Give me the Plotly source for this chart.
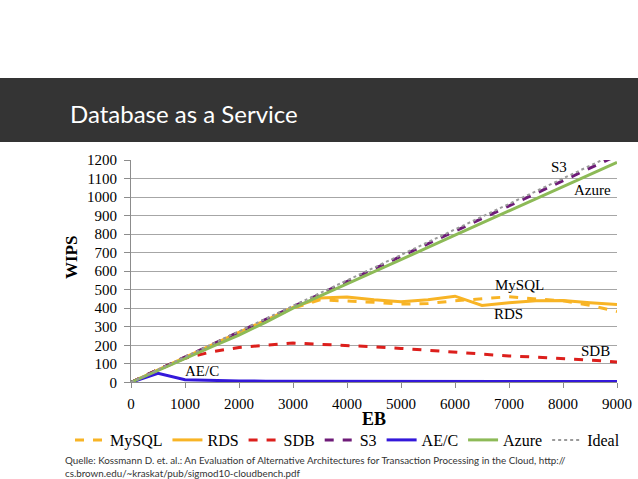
import plotly.graph_objects as go

W, H = 638, 479

# EB values on the x axis
eb = [0, 500, 1000, 1500, 2000, 2500, 3000, 3500, 4000, 4500,
      5000, 5500, 6000, 6500, 7000, 7500, 8000, 8500, 9000]

mysql = [0, 68, 136, 204, 270, 335, 400, 445, 440, 432,
         422, 425, 440, 453, 462, 450, 440, 415, 382]
rds = [0, 68, 136, 204, 270, 335, 405, 455, 460, 445,
       435, 445, 465, 415, 430, 440, 442, 430, 420]
sdb = [0, 68, 130, 165, 188, 200, 212, 205, 200, 192,
       183, 172, 162, 152, 142, 136, 130, 120, 110]
s3 = [0, 68, 136, 204, 272, 340, 410, 478, 545, 612,
      680, 748, 816, 884, 952, 1020, 1088, 1156, 1224]
aec = [0, 48, 14, 9, 7, 6, 6, 5, 5, 5,
       5, 5, 5, 5, 5, 5, 5, 5, 4]
azure = [0, 65, 130, 192, 255, 325, 400, 465, 530, 595,
         660, 728, 795, 860, 925, 990, 1055, 1120, 1187]
ideal_x = [0, 9000]
ideal_y = [0, 1238]

x_ticks = list(range(0, 9001, 1000))
y_ticks = list(range(0, 1201, 100))

serif = "Liberation Serif"

series = [
    ("MySQL", eb, mysql, "#F8B425", "dash", 3),
    ("RDS", eb, rds, "#F8B425", "solid", 3),
    ("SDB", eb, sdb, "#DC1F1C", "dash", 3),
    ("S3", eb, s3, "#6E1B78", "dash", 3),
    ("AE/C", eb, aec, "#3318DA", "solid", 3),
    ("Azure", eb, azure, "#8DBA57", "solid", 3),
    ("Ideal", ideal_x, ideal_y, "#9A9A9A", "dot", 2),
]

fig = go.Figure()
for name, xs, ys, col, dash, w in series:
    fig.add_trace(go.Scatter(x=xs, y=ys, name=name, mode="lines",
                             line=dict(color=col, dash=dash, width=w)))

# dark title band
fig.add_shape(type="rect", xref="paper", yref="paper",
              x0=0, x1=1, y0=1 - 142 / H, y1=1 - 78 / H,
              fillcolor="#343434", line=dict(width=0), layer="below")

ann = []
ann.append(dict(text="Database as a Service", xref="paper", yref="paper",
                x=68 / W, y=1 - 113 / H, xanchor="left", yanchor="middle",
                showarrow=False, font=dict(family="Lato", size=24, color="white")))
ann.append(dict(text="WIPS", xref="paper", yref="paper", x=71 / W, y=1 - 258 / H,
                xanchor="center", yanchor="middle", textangle=-90, showarrow=False,
                font=dict(family=serif, size=17, color="black", weight="bold")))
ann.append(dict(text="EB", xref="paper", yref="paper", x=374 / W, y=1 - 419 / H,
                xanchor="center", yanchor="middle", showarrow=False,
                font=dict(family=serif, size=18, color="black", weight="bold")))

# series labels inside the chart
labels = [("S3", 7930, 1162), ("Azure", 8541, 1037), ("MySQL", 7191, 525),
          ("RDS", 6987, 369), ("SDB", 8598, 169), ("AE/C", 1320, 61)]
for t, lx, ly in labels:
    ann.append(dict(text=t, x=lx, y=ly, showarrow=False,
                    font=dict(family=serif, size=15, color="black")))

src1 = "Quelle: Kossmann D. et. al.: An Evaluation of Alternative Architectures for Transaction Processing in the Cloud, http://"
src2 = "cs.brown.edu/~kraskat/pub/sigmod10-cloudbench.pdf"
for t, py in [(src1, 460), (src2, 473)]:
    ann.append(dict(text=t, xref="paper", yref="paper", x=63 / W, y=1 - py / H,
                    xanchor="left", yanchor="middle", showarrow=False,
                    font=dict(family="Lato", size=9.8, color="#333333")))

fig.update_layout(
    template="none",
    width=W, height=H,
    margin=dict(l=0, r=0, t=0, b=0, pad=0, autoexpand=False),
    paper_bgcolor="white", plot_bgcolor="white",
    annotations=ann,
    showlegend=True,
    legend=dict(orientation="h", x=70 / W, y=1 - 440 / H, xanchor="left",
                yanchor="middle", font=dict(family=serif, size=16, color="black"),
                bgcolor="rgba(0,0,0,0)", tracegroupgap=0),
    xaxis=dict(domain=[131 / W, 617 / W], range=[0, 9000], tickvals=x_ticks,
               automargin=False, ticklabelstandoff=3,
               showgrid=False, zeroline=False, showline=True, linecolor="#8C8C8C",
               ticks="outside", ticklen=5, tickcolor="#8C8C8C",
               tickfont=dict(family=serif, size=15, color="black")),
    yaxis=dict(domain=[1 - 382.3 / H, 1 - 160 / H], range=[0, 1200], tickvals=y_ticks,
               automargin=False, ticklabelstandoff=4,
               showgrid=True, gridcolor="#A6A6A6", zeroline=False, showline=True,
               linecolor="#8C8C8C", ticks="outside", ticklen=6, tickcolor="#8C8C8C",
               tickfont=dict(family=serif, size=15, color="black")),
)

# page body has a default 8px margin; drop it so the figure sits at the corner
fig.write_html("out.html", config={"displayModeBar": False},
               post_script="document.body.style.margin='0px';")
